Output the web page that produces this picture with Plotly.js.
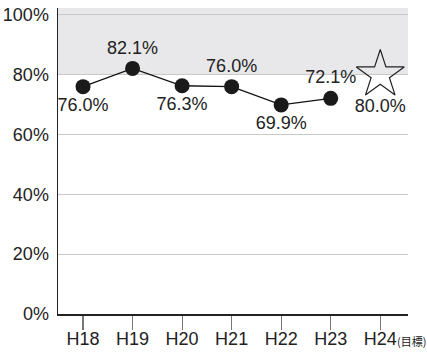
<!DOCTYPE html>
<html><head><meta charset="utf-8">
<script src="https://cdn.plot.ly/plotly-3.0.1.min.js"></script>
<style>html,body{margin:0;padding:0;background:#fff}#c{width:427px;height:354px}</style>
</head><body><div id="c"></div>
<script>
const categories = ["H18","H19","H20","H21","H22","H23","H24"];
const actualValues = [76.0, 82.1, 76.3, 76.0, 69.9, 72.1];
const targetValue = [80.0];
const actualLabelPos = ["bottom center","top center","bottom center","top center","bottom center","top center"];
const yTicks = [0,20,40,60,80,100];
const targetSuffix = "(目標)";

const idx = categories.map((c,i)=>i);
const fontFam = "'Liberation Sans', Arial, sans-serif";

const traces = [
  {
    x: idx.slice(0, actualValues.length), y: actualValues,
    mode: "lines+markers+text", type: "scatter",
    line: {color: "#111", width: 1.3},
    marker: {color: "#1a1a1a", size: 15},
    text: actualValues.map(v => v.toFixed(1) + "%"),
    textposition: actualLabelPos,
    textfont: {family: fontFam, size: 18, color: "#222"},
    cliponaxis: false, hoverinfo: "skip", showlegend: false
  },
  {
    x: [categories.length - 1], y: targetValue,
    mode: "markers+text", type: "scatter",
    marker: {symbol: "star-open", size: 36, color: "#222", line: {width: 1.2, color: "#222"}},
    text: targetValue.map(v => v.toFixed(1) + "%"),
    textposition: "bottom center",
    textfont: {family: fontFam, size: 18, color: "#222"},
    cliponaxis: false, hoverinfo: "skip", showlegend: false
  }
];

const layout = {
  width: 427, height: 354,
  margin: {l: 58, r: 19, t: 8, b: 40},
  paper_bgcolor: "#fff", plot_bgcolor: "#fff",
  font: {family: fontFam, size: 18, color: "#222"},
  xaxis: {
    range: [-0.505, 6.56],
    tickmode: "array", tickvals: idx, ticktext: categories,
    ticks: "outside", ticklen: 14, tickwidth: 1.2, tickcolor: "#777",
    ticklabelstandoff: -6,
    showline: true, linecolor: "#222", linewidth: 1.5,
    showgrid: false, zeroline: false, fixedrange: true,
    tickfont: {family: fontFam, size: 18, color: "#222"}
  },
  yaxis: {
    range: [0, 102.3],
    tickmode: "array", tickvals: yTicks,
    ticktext: yTicks.map(v => v + "%"),
    ticks: "", ticklabelstandoff: 4,
    showline: true, linecolor: "#222", linewidth: 1.5,
    showgrid: true, gridcolor: "#c8c8c8", gridwidth: 1,
    zeroline: false, fixedrange: true,
    tickfont: {family: fontFam, size: 18, color: "#222"}
  },
  shapes: [{
    type: "rect", xref: "paper", yref: "y", x0: 0, x1: 1, y0: 80, y1: 102.3,
    fillcolor: "#e8e8ea", line: {width: 0}, layer: "below"
  }],
  annotations: [{
    x: categories.length - 1, y: 0, xref: "x", yref: "y",
    text: targetSuffix, showarrow: false,
    xanchor: "left", yanchor: "middle", xshift: 15, yshift: -27,
    font: {family: "'Noto Sans CJK JP', sans-serif", size: 11, color: "#222"}
  }]
};

Plotly.newPlot("c", traces, layout, {staticPlot: true, displayModeBar: false});
</script>
</body></html>
